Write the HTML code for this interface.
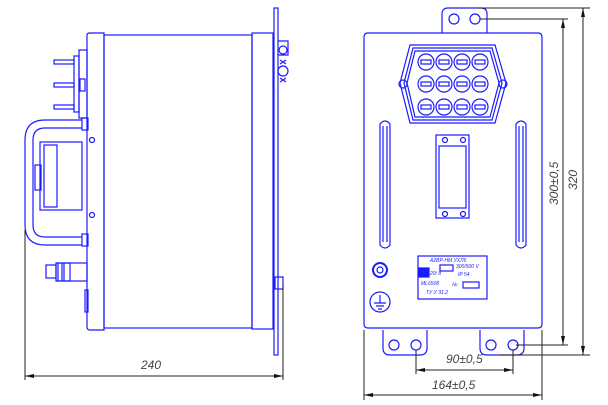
<!DOCTYPE html>
<html><head><meta charset="utf-8"><style>
html,body{margin:0;padding:0;background:#fff;}
svg{display:block;}
text{font-family:"Liberation Sans",sans-serif;font-style:italic;}
</style></head><body>
<svg width="608" height="405" viewBox="0 0 608 405" xmlns="http://www.w3.org/2000/svg">
<g fill="none" stroke="#1a1aff" stroke-width="1.2">
<!-- LEFT VIEW -->
<path d="M87,35 Q87,33 90,33 L104,33 L104,330 L90,330 Q87,330 87,327 Z"/>
<rect x="104" y="35" width="148" height="293"/>
<rect x="252" y="33" width="21" height="296"/>
<rect x="274" y="8" width="4" height="347"/>
<!-- top right fitting -->
<path d="M278,41 L288,41 L288,55 L278,55"/>
<circle cx="283" cy="50" r="4"/>
<circle cx="283" cy="71" r="5"/>
<path d="M280,60 L286,64 M286,60 L280,64 M280,78 L286,82 M286,78 L280,82"/>
<!-- connector block -->
<rect x="79" y="50" width="8" height="68"/>
<rect x="74" y="56" width="5" height="56"/>
<rect x="54" y="60" width="20" height="4"/>
<rect x="54" y="83" width="20" height="4"/>
<rect x="54" y="105" width="20" height="4"/>
<rect x="80" y="79" width="5" height="12"/>
<!-- handle -->
<path d="M82,120 L45,120 Q25,120 25,140 L25,225 Q25,245 45,245 L82,245"/>
<path d="M82,128 L45,128 Q33,128 33,140 L33,225 Q33,237 45,237 L82,237"/>
<rect x="82" y="118" width="6" height="12"/>
<rect x="82" y="234" width="6" height="12"/>
<rect x="40" y="142" width="42" height="68"/>
<rect x="44" y="145" width="13" height="62"/>
<rect x="35" y="165" width="6" height="25"/>
<circle cx="92" cy="140" r="2.5"/>
<circle cx="92" cy="215" r="2.5"/>
<!-- bolt -->
<rect x="58" y="263" width="29" height="18"/>
<rect x="46" y="265" width="10" height="13"/>
<rect x="56" y="263" width="6" height="18"/>
<rect x="64" y="263" width="6" height="18"/>
<rect x="85" y="290" width="3" height="22"/>
<rect x="275" y="277" width="8" height="12"/>
<!-- RIGHT VIEW -->
<path d="M442,33 L442,14 Q442,8 448,8 L481,8 Q487,8 487,14 L487,33"/>
<circle cx="454" cy="19" r="5"/>
<circle cx="475" cy="19" r="5"/>
<path d="M368,33 L538,33 Q542,33 542,37 L542,324 Q542,328 538,328 L368,328 Q364,328 364,324 L364,37 Q364,33 368,33 Z"/>
<path d="M383,330 L383,348 Q383,355 390,355 L420,355 Q427,355 427,348 L427,330"/>
<circle cx="394" cy="345" r="5"/><circle cx="416" cy="345" r="5"/>
<path d="M480,330 L480,348 Q480,355 487,355 L517,355 Q524,355 524,348 L524,330"/>
<circle cx="491" cy="345" r="5"/><circle cx="513" cy="345" r="5"/>
<!-- connector -->
<path d="M410,45 L495,45 L506,83 L495,123 L410,123 L400,83 Z"/>
<path d="M413,48 L492,48 L502,83 L492,120 L413,120 L404,83 Z"/>
<path d="M415,51 L490,51 L499,83 L490,117 L415,117 L407,83 Z"/>
<circle cx="403" cy="84" r="4"/><circle cx="503" cy="84" r="4"/>
<g>
<circle cx="426" cy="62" r="8"/><circle cx="444" cy="62" r="8"/><circle cx="462" cy="62" r="8"/><circle cx="480" cy="62" r="8"/>
<circle cx="426" cy="84" r="8"/><circle cx="444" cy="84" r="8"/><circle cx="462" cy="84" r="8"/><circle cx="480" cy="84" r="8"/>
<circle cx="426" cy="107" r="8"/><circle cx="444" cy="107" r="8"/><circle cx="462" cy="107" r="8"/><circle cx="480" cy="107" r="8"/>
<rect x="421" y="60" width="10" height="4"/><rect x="439" y="60" width="10" height="4"/><rect x="457" y="60" width="10" height="4"/><rect x="475" y="60" width="10" height="4"/>
<rect x="421" y="82" width="10" height="4"/><rect x="439" y="82" width="10" height="4"/><rect x="457" y="82" width="10" height="4"/><rect x="475" y="82" width="10" height="4"/>
<rect x="421" y="105" width="10" height="4"/><rect x="439" y="105" width="10" height="4"/><rect x="457" y="105" width="10" height="4"/><rect x="475" y="105" width="10" height="4"/>
</g>
<!-- slots -->
<path d="M380,245 L380,124 Q385,118 390,124 L390,245 Q385,251 380,245 Z"/>
<path d="M383,242 L383,126 M387,242 L387,126"/>
<path d="M516,245 L516,124 Q521,118 526,124 L526,245 Q521,251 516,245 Z"/>
<path d="M519,242 L519,126 M523,242 L523,126"/>
<!-- window -->
<rect x="436" y="135" width="33" height="83"/>
<rect x="439" y="146" width="27" height="62"/>
<circle cx="445" cy="140" r="2.5"/><circle cx="463" cy="140" r="2.5"/>
<circle cx="445" cy="214" r="2.5"/><circle cx="463" cy="214" r="2.5"/>
<!-- label -->
<rect x="418" y="256" width="69" height="43"/>
<rect x="419" y="268" width="10" height="9" fill="#1a1aff"/>
<rect x="440" y="265" width="13" height="6"/>
<rect x="463" y="282" width="16" height="6"/>
<circle cx="380" cy="270" r="7" stroke-width="2"/>
<circle cx="380" cy="270" r="3"/>
<circle cx="380" cy="302" r="10"/>
<path d="M380,295 L380,303 M374,303 L386,303 M376,306 L384,306 M378,309 L382,309"/>
</g>
<g font-size="5" fill="#1a1aff" style="font-style:normal">
<text x="430" y="262">A2ВР-НМ УХЛ5</text>
<text x="456" y="268">300/500 V</text>
<text x="430" y="275">20/ 8</text>
<text x="458" y="276">IP 54</text>
<text x="421" y="285">ML6508</text>
<text x="452" y="286">№</text>
<text x="426" y="294">ТУ У 31.2</text>
</g>
<!-- DIMENSIONS -->
<g stroke="#222" stroke-width="1" fill="none">
<path d="M25,230 L25,380 M283,285 L283,380 M25,376 L283,376"/>
<path d="M478,8 L590,8 M480,19 L568,19 M516,345 L568,345 M500,355 L590,355"/>
<path d="M563,19 L563,345 M583,8 L583,355"/>
<path d="M416,350 L416,374 M513,350 L513,374 M416,370 L513,370"/>
<path d="M364,330 L364,400 M542,330 L542,400 M364,395 L542,395"/>
</g>
<g fill="#111">
<path d="M25,376 l9,-2 l0,4 z M283,376 l-9,-2 l0,4 z"/>
<path d="M563,19 l-2,9 l4,0 z M563,345 l-2,-9 l4,0 z M583,8 l-2,9 l4,0 z M583,355 l-2,-9 l4,0 z"/>
<path d="M416,370 l9,-2 l0,4 z M513,370 l-9,-2 l0,4 z M364,395 l9,-2 l0,4 z M542,395 l-9,-2 l0,4 z"/>
</g>
<g fill="#444" font-size="12">
<text x="141" y="369">240</text>
<text x="446" y="363">90±0,5</text>
<text x="432" y="389">164±0,5</text>
<text transform="translate(558,205) rotate(-90)">300±0,5</text>
<text transform="translate(577,190) rotate(-90)">320</text>
</g>
</svg>
</body></html>
